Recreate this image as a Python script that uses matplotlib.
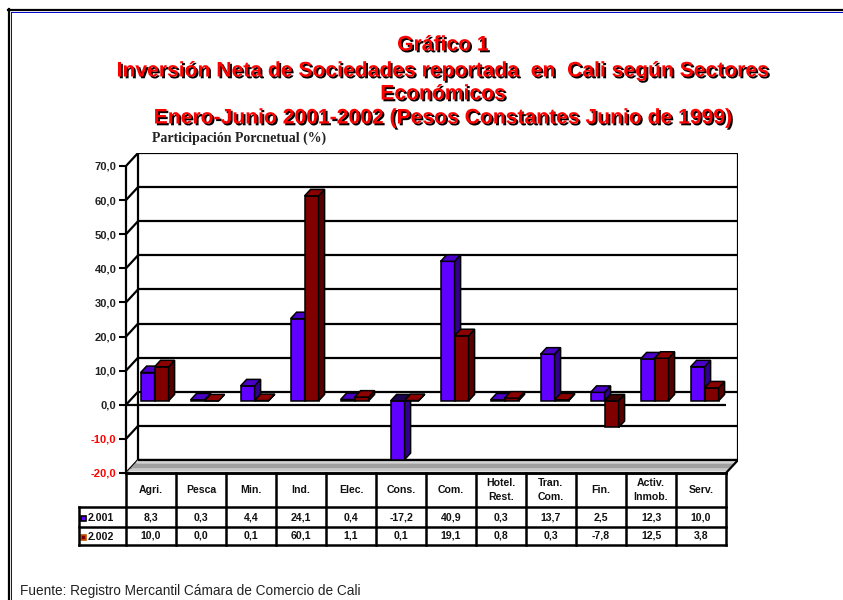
import matplotlib
matplotlib.use("Agg")
import matplotlib.pyplot as plt
import matplotlib.patheffects as pe
from matplotlib.patches import Polygon, Rectangle
from matplotlib.lines import Line2D
import matplotlib.transforms as mtransforms

# --- data ---
sectors = ['Agri.', 'Pesca', 'Min.', 'Ind.', 'Elec.', 'Cons.', 'Com.',
           'Hotel.\nRest.', 'Tran.\nCom.', 'Fin.', 'Activ.\nInmob.', 'Serv.']
series_names = ['2.001', '2.002']
v2001 = [8.3, 0.3, 4.4, 24.1, 0.4, -17.2, 40.9, 0.3, 13.7, 2.5, 12.3, 10.0]
v2002 = [10.0, 0.0, 0.1, 60.1, 1.1, 0.1, 19.1, 0.8, 0.3, -7.8, 12.5, 3.8]
yticks = [-20, -10, 0, 10, 20, 30, 40, 50, 60, 70]

W, H = 843, 600
DX, DY = 0.24, 3.8          # depth offset of the back wall (category units, value units)
Z0, Z1 = 0.3, 0.8           # depth slice occupied by the bars

face_cols = [('#6000ff', '#4a00c8', '#30008c', '#1a0050'),
             ('#800000', '#8c0000', '#560000', '#3a0000')]

fig = plt.figure(figsize=(W / 100, H / 100), dpi=100)
fig.patch.set_facecolor('white')

ax = fig.add_axes([126 / W, 1 - 473 / H, 612 / W, 320 / H])
ax.set_xlim(0, 12 + DX)
ax.set_ylim(-20, 70 + DY)
ax.patch.set_visible(False)

n = len(sectors)

# back wall and side wall grid
ax.hlines([v + DY for v in yticks], DX, n + DX, colors='black', lw=1.6, zorder=1)
for v in yticks:
    ax.plot([0, DX], [v, v + DY], color='black', lw=1.6, zorder=1, solid_capstyle='butt')
ax.vlines([DX, n + DX], -20 + DY, 70 + DY, colors='black', lw=1.6, zorder=1)

# floor (grey bands)
floor_bands = [(0.0, 0.12, '#f0f0f0'), (0.12, 0.35, '#c8c8c8'),
               (0.35, 0.75, '#a0a0a0'), (0.75, 1.0, '#d4d4d4')]
for f0, f1, c in floor_bands:
    ax.add_patch(Polygon([(f0 * DX, -20 + f0 * DY), (n + f0 * DX, -20 + f0 * DY),
                          (n + f1 * DX, -20 + f1 * DY), (f1 * DX, -20 + f1 * DY)],
                         closed=True, facecolor=c, edgecolor='none', zorder=1.2))
ax.plot([n, n + DX], [-20, -20 + DY], color='black', lw=1.6, zorder=1.3)
ax.hlines(-20 + DY, DX, n + DX, colors='black', lw=1.6, zorder=1.3)

# front zero line
ax.hlines(0, 0, n, colors='black', lw=1.6, zorder=2)


def draw_bar(x0, w, v, cols):
    front, top, side, under = cols
    x1 = x0 + w
    a, b = Z0, Z1
    lo, hi = min(0, v), max(0, v)
    kw = dict(closed=True, edgecolor='black', lw=1.1, joinstyle='miter', zorder=3)
    # front face
    ax.add_patch(Polygon([(x0 + a * DX, lo + a * DY), (x1 + a * DX, lo + a * DY),
                          (x1 + a * DX, hi + a * DY), (x0 + a * DX, hi + a * DY)],
                         facecolor=front, **kw))
    # right side face
    ax.add_patch(Polygon([(x1 + a * DX, lo + a * DY), (x1 + b * DX, lo + b * DY),
                          (x1 + b * DX, hi + b * DY), (x1 + a * DX, hi + a * DY)],
                         facecolor=side, **kw))
    # top face
    ax.add_patch(Polygon([(x0 + a * DX, hi + a * DY), (x1 + a * DX, hi + a * DY),
                          (x1 + b * DX, hi + b * DY), (x0 + b * DX, hi + b * DY)],
                         facecolor=top if v >= 0 else under, **kw))


bw = 0.28
for i in range(n):
    for s, vals in enumerate([v2001, v2002]):
        draw_bar(i + 0.22 + s * bw, bw, vals[i], face_cols[s])

# axes: front value axis and floor front edge
for side in ['top', 'right']:
    ax.spines[side].set_visible(False)
ax.spines['left'].set_bounds(-20, 70)
ax.spines['left'].set_linewidth(1.6)
ax.spines['bottom'].set_bounds(0, n)
ax.spines['bottom'].set_linewidth(1.8)
ax.spines['left'].set_zorder(2.5)

ax.set_yticks(yticks)
ax.set_yticklabels([f"{v:.1f}".replace('.', ',') for v in yticks])
for lab, v in zip(ax.get_yticklabels(), yticks):
    lab.set_color('red' if v < 0 else '#222222')
    lab.set_fontweight('bold')
    lab.set_family('Liberation Sans')
ax.tick_params(axis='y', direction='out', length=5, width=1.5, pad=2, labelsize=8)
ax.set_xticks(range(n + 1))
ax.set_xticklabels([])
ax.tick_params(axis='x', direction='out', length=0)

# data table under the chart (x in category units, y in figure pixels)
tr = mtransforms.blended_transform_factory(ax.transData, fig.transFigure)
fy = lambda p: 1 - p / H
row_y = [473, 507, 527, 545]
lab_x = -0.935
tkw = dict(transform=tr, color='black', lw=1.8, clip_on=False, solid_capstyle='projecting')

for k in range(n + 1):
    fig.add_artist(Line2D([k, k], [fy(473), fy(545)], **tkw))
fig.add_artist(Line2D([lab_x, lab_x], [fy(507), fy(545)], **tkw))
for p in row_y[1:]:
    fig.add_artist(Line2D([lab_x, n], [fy(p), fy(p)], **tkw))
fig.add_artist(Line2D([0, n], [fy(473), fy(473)], **tkw))

txt = dict(transform=tr, ha='center', va='center', fontsize=7.6,
           fontweight='bold', family='Liberation Sans', color='#111111')
for i, name in enumerate(sectors):
    fig.text(i + 0.5, fy((row_y[0] + row_y[1]) / 2), name, linespacing=1.45, **txt)
    for r, vals in enumerate([v2001, v2002]):
        fig.text(i + 0.5, fy((row_y[r + 1] + row_y[r + 2]) / 2),
                 f"{vals[i]:.1f}".replace('.', ','), **txt)

sq_cols = [('#6000ff', 'black'), ('#800000', '#c05000')]
for r, name in enumerate(series_names):
    yc = (row_y[r + 1] + row_y[r + 2]) / 2 + 1
    fig.add_artist(Rectangle((lab_x + 0.03, fy(yc + 3)), 0.1, 5.5 / H, transform=tr,
                             facecolor=sq_cols[r][0], edgecolor=sq_cols[r][1], lw=1.2))
    fig.text(lab_x + 0.17, fy(yc), name, transform=tr, ha='left', va='center',
             fontsize=7.6, fontweight='bold', family='Liberation Sans', color='#111111')

# titles
shadow = [pe.SimplePatchShadow(offset=(1.3, -1.3), shadow_rgbFace='black', alpha=1.0),
          pe.Normal()]
title_lines = [('Gráfico 1', 45), ('Inversión Neta de Sociedades reportada  en  Cali según Sectores', 71),
               ('Económicos', 94), ('Enero-Junio 2001-2002 (Pesos Constantes Junio de 1999)', 118)]
for t, yp in title_lines:
    fig.text(443 / W, fy(yp), t, ha='center', va='center', fontsize=15.2, fontweight='bold',
             family='Liberation Sans', color='#ff0000', path_effects=shadow)

fig.text(152 / W, fy(138), 'Participación Porcnetual (%)', ha='left', va='center',
         fontsize=10, fontweight='bold', family='Liberation Serif', color='#222222')

fig.text(20 / W, fy(591), 'Fuente: Registro Mercantil Cámara de Comercio de Cali', ha='left',
         va='center', fontsize=9.8, family='Liberation Sans', color='#222222')

# page frame (black with thin blue inner line)
fig.add_artist(Line2D([8 / W, 1], [fy(10), fy(10)], color='black', lw=1.6))
fig.add_artist(Line2D([9 / W, 9 / W], [0, fy(9)], color='black', lw=1.6))
fig.add_artist(Line2D([10.5 / W, 1], [fy(11.5), fy(11.5)], color='#0000cc', lw=0.7))
fig.add_artist(Line2D([10.8 / W, 10.8 / W], [0, fy(11.5)], color='#0000cc', lw=0.7))

fig.savefig('out.png', dpi=100, facecolor='white')
